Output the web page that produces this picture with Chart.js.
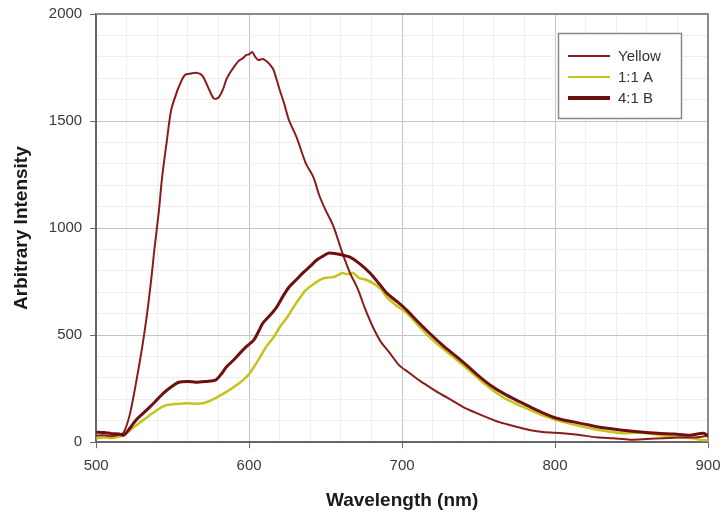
<!DOCTYPE html>
<html>
<head>
<meta charset="utf-8">
<script src="https://cdn.jsdelivr.net/npm/chart.js@4.4.1/dist/chart.umd.min.js"></script>
<style>
  html, body { margin: 0; padding: 0; background: #fff; }
  #wrap { width: 723px; height: 518px; }
</style>
</head>
<body>
<div id="wrap"><canvas id="chart" width="723" height="518"></canvas></div>
<script>
// values
const yellowWl = [500, 505, 510, 515, 518, 522, 526, 530, 533, 536, 538, 541, 543, 546, 549, 552, 554, 558, 562, 565, 568, 570, 574, 577, 580, 583, 585, 587, 590, 593, 596, 598, 600, 602, 604, 606, 609, 612, 614, 616, 620, 623, 626, 631, 637, 642, 646, 650, 655, 661, 666, 671, 676, 681, 686, 692, 698, 705, 712, 718, 724, 729, 735, 740, 748, 755, 763, 771, 778, 784, 792, 805, 815, 827, 838, 849, 860, 871, 882, 893, 900];
const yellowVal = [30, 32, 28, 35, 45, 130, 275, 440, 585, 760, 897, 1080, 1230, 1397, 1551, 1620, 1659, 1715, 1722, 1726, 1720, 1706, 1645, 1605, 1610, 1650, 1692, 1720, 1752, 1780, 1794, 1808, 1812, 1822, 1800, 1785, 1790, 1776, 1760, 1738, 1645, 1580, 1505, 1425, 1304, 1238, 1150, 1084, 1010, 883, 790, 716, 620, 537, 470, 416, 360, 322, 285, 257, 230, 210, 185, 164, 138, 117, 95, 79, 66, 56, 48, 42, 35, 23, 18, 12, 15, 19, 22, 23, 30];

const ratioAWl = [500, 505, 510, 515, 518, 523, 528, 532, 537, 542, 546, 552, 559, 565, 570, 574, 578, 582, 587, 592, 596, 600, 603, 607, 611, 616, 620, 625, 629, 633, 637, 642, 646, 650, 655, 658, 661, 664, 668, 672, 676, 681, 686, 690, 696, 703, 710, 718, 727, 736, 744, 751, 758, 766, 775, 784, 792, 801, 812, 823, 833, 844, 852, 860, 871, 882, 890, 897, 900];
const ratioAVal = [19, 22, 20, 25, 33, 60, 89, 110, 136, 160, 173, 178, 182, 180, 182, 192, 206, 222, 243, 268, 290, 318, 350, 395, 444, 490, 537, 585, 631, 672, 710, 738, 757, 768, 771, 780, 790, 785, 790, 766, 760, 743, 715, 678, 640, 603, 550, 491, 435, 383, 335, 290, 250, 210, 178, 150, 125, 103, 82, 65, 52, 42, 44, 42, 30, 23, 18, 9, 10];

const ratioBWl = [500, 505, 510, 515, 518, 522, 526, 530, 535, 540, 544, 549, 554, 560, 565, 572, 578, 582, 585, 590, 594, 598, 603, 606, 609, 614, 618, 622, 626, 631, 635, 640, 644, 648, 652, 657, 661, 666, 672, 679, 685, 690, 697, 703, 710, 718, 727, 736, 744, 751, 758, 766, 775, 784, 792, 801, 812, 823, 833, 844, 856, 867, 878, 888, 897, 900];
const ratioBVal = [47, 45, 40, 38, 33, 65, 103, 130, 164, 200, 229, 258, 280, 284, 280, 284, 290, 320, 350, 385, 416, 445, 477, 515, 556, 595, 631, 680, 724, 760, 790, 822, 850, 868, 883, 880, 874, 864, 835, 790, 740, 696, 655, 617, 565, 509, 450, 397, 348, 304, 265, 229, 195, 164, 137, 112, 95, 79, 66, 56, 48, 42, 38, 33, 42, 30];

const seriesNames = ['Yellow', '1:1 A', '4:1 B'];
const xTicks = [500, 600, 700, 800, 900];
const yTicks = [0, 500, 1000, 1500, 2000];

const FONT = 'Arial, "Liberation Sans", sans-serif';

function pts(wl, val) {
  return wl.map((x, i) => ({ x: x, y: val[i] }));
}

// boxed legend inside the plot, like the original
const legendBox = {
  id: 'legendBox',
  afterDraw(chart) {
    const ctx = chart.ctx;
    const x = 558, y = 33, w = 123, h = 85;
    ctx.save();
    ctx.fillStyle = '#fff';
    ctx.fillRect(x, y, w, h);
    ctx.strokeStyle = '#888';
    ctx.lineWidth = 1.5;
    ctx.strokeRect(x + 0.5, y + 0.5, w, h);
    ctx.font = '15px ' + FONT;
    ctx.textBaseline = 'middle';
    chart.data.datasets.forEach((ds, i) => {
      const ly = y + 23 + i * 21;
      ctx.strokeStyle = ds.borderColor;
      ctx.lineWidth = i === 2 ? 4 : 2;
      ctx.beginPath();
      ctx.moveTo(x + 10, ly);
      ctx.lineTo(x + 52, ly);
      ctx.stroke();
      ctx.fillStyle = '#333';
      ctx.fillText(ds.label, x + 60, ly + 1);
    });
    ctx.restore();
  }
};

const frame = {
  id: 'frame',
  beforeDatasetsDraw(chart) {
    const a = chart.chartArea, ctx = chart.ctx;
    ctx.save();
    ctx.strokeStyle = '#8a8a8a';
    ctx.lineWidth = 2;
    ctx.beginPath();
    ctx.moveTo(a.left, a.top);
    ctx.lineTo(a.right, a.top);
    ctx.lineTo(a.right, a.bottom);
    ctx.stroke();
    ctx.restore();
  }
};

function noEdgePadding(scale) {
  scale.paddingLeft = 0;
  scale.paddingRight = 0;
  scale.paddingTop = 0;
  scale.paddingBottom = 0;
}

new Chart(document.getElementById('chart'), {
  type: 'line',
  data: {
    datasets: [{
      label: seriesNames[0],
      data: pts(yellowWl, yellowVal),
      borderColor: '#8b1c1c',
      borderWidth: 2,
      pointRadius: 0,
      tension: 0.3,
      order: 1
    }, {
      label: seriesNames[1],
      data: pts(ratioAWl, ratioAVal),
      borderColor: '#c4c41a',
      borderWidth: 2.5,
      pointRadius: 0,
      tension: 0.3,
      order: 2
    }, {
      label: seriesNames[2],
      data: pts(ratioBWl, ratioBVal),
      borderColor: '#6e1010',
      borderWidth: 3,
      pointRadius: 0,
      tension: 0.3,
      order: 0
    }]
  },
  options: {
    responsive: false,
    animation: false,
    layout: { padding: { top: 14, right: 15, left: 6, bottom: 6 } },
    plugins: {
      legend: { display: false },
      tooltip: { enabled: false }
    },
    scales: {
      x: {
        type: 'linear',
        min: 500,
        max: 900,
        afterFit: noEdgePadding,
        ticks: {
          stepSize: 20,
          autoSkip: false,
          maxRotation: 0,
          color: '#3a3a3a',
          font: { size: 15, family: FONT },
          padding: 9,
          callback: v => xTicks.includes(v) ? v : ''
        },
        grid: {
          color: c => xTicks.includes(c.tick.value) ? '#c4c4c4' : '#eeeeee',
          tickColor: c => xTicks.includes(c.tick.value) ? '#666' : 'rgba(0,0,0,0)',
          tickLength: 6
        },
        border: { color: '#666', width: 2 },
        title: {
          display: true,
          text: 'Wavelength (nm)',
          color: '#1a1a1a',
          font: { size: 19, weight: 'bold', family: FONT },
          padding: { top: 5, bottom: 0 }
        }
      },
      y: {
        min: 0,
        max: 2000,
        afterFit: noEdgePadding,
        ticks: {
          stepSize: 100,
          autoSkip: false,
          color: '#3a3a3a',
          font: { size: 15, family: FONT },
          padding: 8,
          callback: v => yTicks.includes(v) ? v : ''
        },
        grid: {
          color: c => yTicks.includes(c.tick.value) ? '#c4c4c4' : '#eeeeee',
          tickColor: c => yTicks.includes(c.tick.value) ? '#666' : 'rgba(0,0,0,0)',
          tickLength: 6
        },
        border: { color: '#666', width: 2 },
        title: {
          display: true,
          text: 'Arbitrary Intensity',
          color: '#1a1a1a',
          font: { size: 19, weight: 'bold', family: FONT },
          padding: { top: 4, bottom: 8 }
        }
      }
    }
  },
  plugins: [frame, legendBox]
});
</script>
</body>
</html>
